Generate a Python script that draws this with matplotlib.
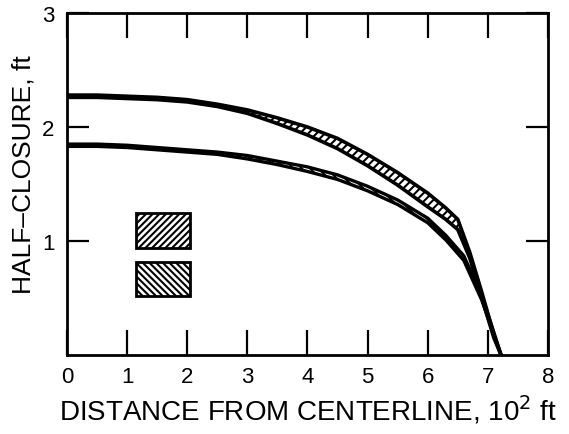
import matplotlib
matplotlib.use("Agg")
import matplotlib.pyplot as plt
from matplotlib.patches import Rectangle

plt.rcParams['font.family'] = ['Liberation Sans', 'DejaVu Sans']
plt.rcParams['hatch.linewidth'] = 1.5

# upper band (two bounding curves)
upperX = [0, 0.5, 1, 1.5, 2, 2.5, 3, 3.5, 4, 4.5, 5, 5.5, 6, 6.3, 6.5, 6.7, 6.9, 7.1, 7.22]
upperHi = [2.28, 2.28, 2.27, 2.26, 2.24, 2.20, 2.15, 2.08, 2.0, 1.90, 1.76, 1.60, 1.42, 1.29, 1.19, 0.90, 0.55, 0.18, 0]
upperLo = [2.26, 2.26, 2.25, 2.24, 2.22, 2.18, 2.12, 2.03, 1.93, 1.81, 1.66, 1.49, 1.30, 1.19, 1.10, 0.85, 0.50, 0.15, 0]

# lower band
lowerX = [0, 0.5, 1, 1.5, 2, 2.5, 3, 3.5, 4, 4.5, 5, 5.5, 6, 6.3, 6.6, 6.9, 7.1, 7.22]
lowerHi = [1.85, 1.85, 1.84, 1.82, 1.80, 1.78, 1.75, 1.70, 1.65, 1.58, 1.48, 1.36, 1.20, 1.05, 0.87, 0.52, 0.20, 0]
lowerLo = [1.83, 1.83, 1.82, 1.80, 1.78, 1.76, 1.72, 1.67, 1.61, 1.54, 1.44, 1.32, 1.16, 1.01, 0.83, 0.48, 0.18, 0]

xTicks = [0, 1, 2, 3, 4, 5, 6, 7, 8]
yTicks = [1, 2, 3]

fig = plt.figure(figsize=(5.69, 4.35), dpi=100)
ax = fig.add_axes([0.1178, 0.1816, 0.8452, 0.7862])

ax.fill_between(upperX, upperLo, upperHi, facecolor="white", edgecolor="black", hatch="////", linewidth=0)
ax.plot(upperX, upperHi, c="black", lw=2.6)
ax.plot(upperX, upperLo, c="black", lw=2.6)

ax.fill_between(lowerX, lowerLo, lowerHi, facecolor="white", edgecolor="black", hatch="\\\\\\\\", linewidth=0)
ax.plot(lowerX, lowerHi, c="black", lw=2.4)
ax.plot(lowerX, lowerLo, c="black", lw=2.4)

# key boxes
ax.add_patch(Rectangle((1.15, 0.94), 0.9, 0.31, facecolor="white", edgecolor="black", hatch="/////", lw=2))
ax.add_patch(Rectangle((1.15, 0.52), 0.9, 0.30, facecolor="white", edgecolor="black", hatch="\\\\\\\\\\", lw=2))

ax.set_xlim(0, 8)
ax.set_ylim(0, 3)
ax.set_xticks(xTicks)
ax.set_yticks(yTicks)
ax.tick_params(axis="x", direction="in", length=18, width=1.6, top=True, labelsize=16, pad=8)
ax.tick_params(axis="y", direction="in", length=16, width=1.6, right=True, labelsize=16, pad=9)
for s in ax.spines.values():
    s.set_linewidth(2)

ax.set_xlabel("DISTANCE FROM CENTERLINE, 10$^2$ ft", fontsize=20, labelpad=4)
ax.set_ylabel("HALF\u2013CLOSURE, ft", fontsize=19)
ax.yaxis.set_label_coords(-0.066, 0.53)

fig.savefig("out.png", dpi=100)
